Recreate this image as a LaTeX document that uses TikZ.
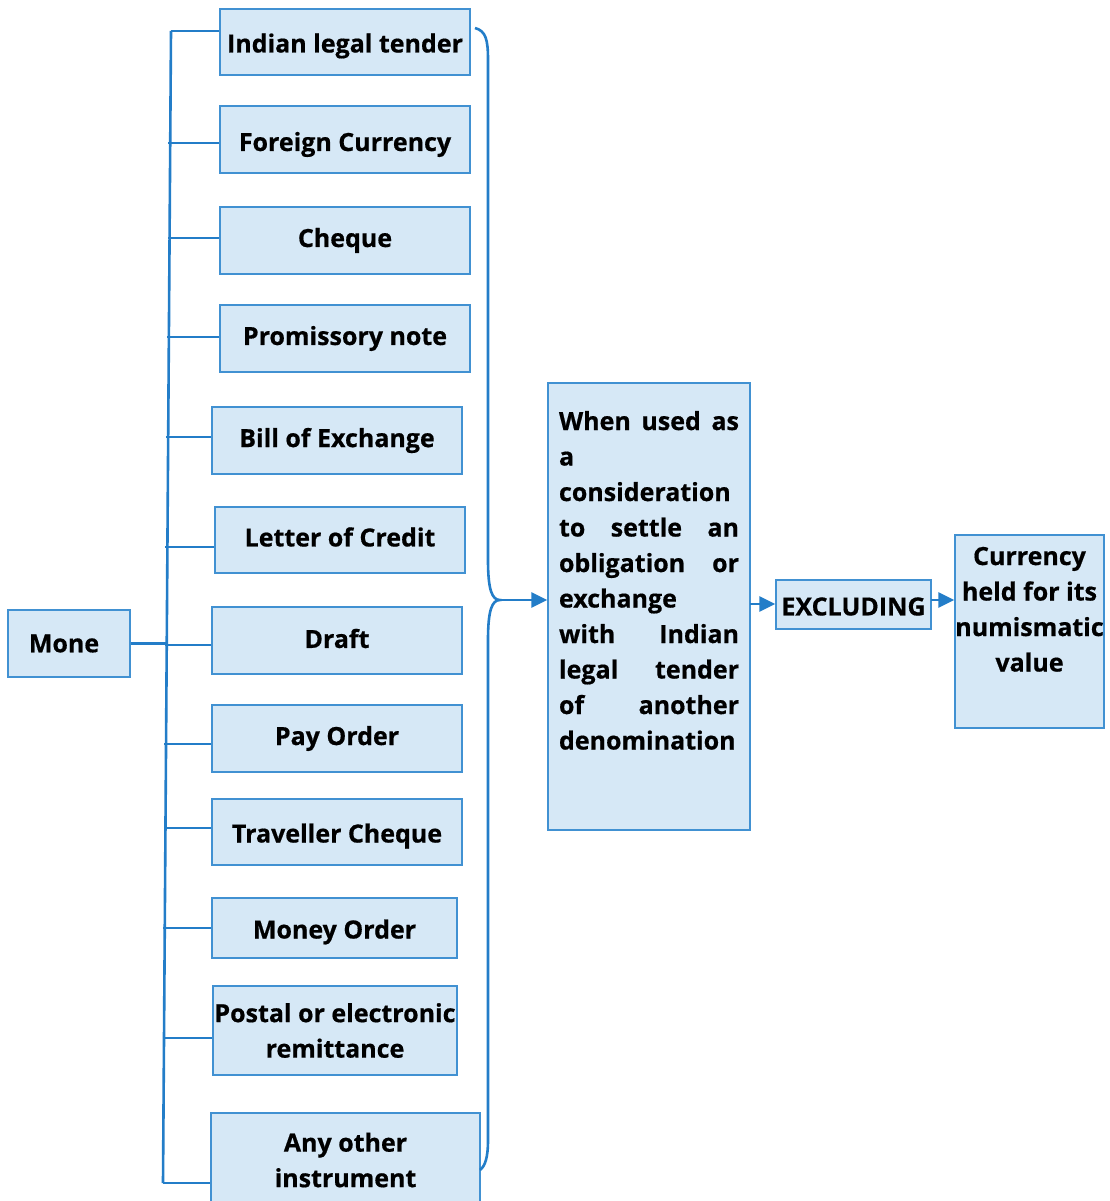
\documentclass[tikz,border=0pt]{standalone}
\usepackage{fontspec}
\setmainfont{Open Sans}[BoldFeatures={FakeBold=0.6}]
\usetikzlibrary{arrows.meta}
\definecolor{boxfill}{RGB}{214,232,246}
\definecolor{boxline}{RGB}{65,145,210}
\definecolor{linecol}{RGB}{35,125,200}
\newcommand{\dn}[2]{\raisebox{-#1pt}[\height][\depth]{#2}}
\begin{document}
\begin{tikzpicture}[x=1pt,y=-1pt,
  box/.style={draw=boxline, fill=boxfill, line width=1.4pt, inner sep=0pt,
    font=\fontsize{25}{35.5}\selectfont\bfseries, align=center},
  conn/.style={draw=linecol, line width=2.6pt},
  arr/.style={conn, -{Triangle[length=16pt,width=15pt]}}]
\useasboundingbox (0,0) rectangle (1109,1201);
% left column
\node[box, minimum width=250pt, minimum height=66pt] (n1) at (345,42) {\dn{4}{Indian legal tender}};
\node[box, minimum width=250pt, minimum height=67pt] (n2) at (345,139.5) {\dn{5}{Foreign Currency}};
\node[box, minimum width=250pt, minimum height=67pt] (n3) at (345,240.5) {Cheque};
\node[box, minimum width=250pt, minimum height=67pt] (n4) at (345,338.5) {Promissory note};
\node[box, minimum width=250pt, minimum height=67pt] (n5) at (337,440.5) {Bill of Exchange};
\node[box, minimum width=250pt, minimum height=66pt] (n6) at (340,540) {\dn{-3}{Letter of Credit}};
\node[box, minimum width=250pt, minimum height=67pt] (n7) at (337,640.5) {\dn{-2}{Draft}};
\node[box, minimum width=250pt, minimum height=67pt] (n8) at (337,738.5) {Pay Order};
\node[box, minimum width=250pt, minimum height=66pt] (n9) at (337,832) {\dn{4}{Traveller Cheque}};
\node[box, minimum width=245pt, minimum height=60pt] (n10) at (334.5,928) {\dn{4}{Money Order}};
\node[box, minimum width=244pt, minimum height=89pt] (n11) at (335,1030.5) {Postal or electronic\\remittance};
\node[box, minimum width=269pt, minimum height=94pt] (n12) at (345.5,1160) {Any other\\instrument};
\node[box, minimum width=122pt, minimum height=67pt] (mone) at (69,643.5) {\hspace*{-10pt}Mone};
% right part
\node[box, inner xsep=11pt, inner ysep=0pt] (big) at (649,606.5)
  {\parbox[c][447pt][t]{180pt}{\vspace*{27pt}\rule{0pt}{20pt}\makebox[180pt][s]{When used as}\\
   a\\
   consideration\\
   \makebox[180pt][s]{to settle an}\\
   \makebox[180pt][s]{obligation or}\\
   exchange\\
   \makebox[180pt][s]{with Indian}\\
   \makebox[180pt][s]{legal tender}\\
   \makebox[180pt][s]{of another}\\
   denomination}};
\node[box, minimum width=155pt, minimum height=49pt] (excl) at (853.5,604.5) {\dn{2}{EXCLUDING}};
\node[box, inner sep=0pt] (cur) at (1029.5,631.5)
  {\parbox[c][193pt][t]{149pt}{\centering\vspace*{10pt}\rule{0pt}{20pt}Currency\\
   held for its\\ numismatic\\ value}};
% trunk
\coordinate (ttop) at (171,31);
\coordinate (tbot) at (163,1183);
\draw[conn] (ttop) -- (tbot);
\draw[conn] (ttop) -- (n1.west |- ttop);
\coordinate (b2) at (168,143);  \draw[conn] (b2) -- (n2.west |- b2);
\coordinate (b3) at (168,238);  \draw[conn] (b3) -- (n3.west |- b3);
\coordinate (b4) at (167,337);  \draw[conn] (b4) -- (n4.west |- b4);
\coordinate (b5) at (166,437);  \draw[conn] (b5) -- (n5.west |- b5);
\coordinate (b6) at (165,547);  \draw[conn] (b6) -- (n6.west |- b6);
\coordinate (b7) at (165,645);  \draw[conn] (b7) -- (n7.west |- b7);
\coordinate (b8) at (164,744);  \draw[conn] (b8) -- (n8.west |- b8);
\coordinate (b9) at (164,828);  \draw[conn] (b9) -- (n9.west |- b9);
\coordinate (b10) at (163,928); \draw[conn] (b10) -- (n10.west |- b10);
\coordinate (b11) at (163,1038); \draw[conn] (b11) -- (n11.west |- b11);
\draw[conn] (tbot) -- (n12.west |- tbot);
\coordinate (mj) at (167,643);
\draw[conn] (mone.east) -- (mone.east -| mj);
% brace
\coordinate (btop) at (475,28);
\coordinate (btip) at (500,600);
\coordinate (bbot) at (480,1170);
\draw[conn] (btop) .. controls (486,31) and (488,40) .. (488,60) -- (488,560)
  .. controls (488,590) and (492,600) .. (btip)
  .. controls (492,600) and (488,610) .. (488,640) -- (488,1140)
  .. controls (488,1158) and (485,1166) .. (bbot);
\draw[arr] (btip) -- (big.west |- btip);
% arrows right
\coordinate (a1) at (750,604);
\draw[arr] (a1) -- (excl.west |- a1);
\coordinate (a2) at (931,600);
\draw[arr] (a2) -- (cur.west |- a2);
\end{tikzpicture}
\end{document}
